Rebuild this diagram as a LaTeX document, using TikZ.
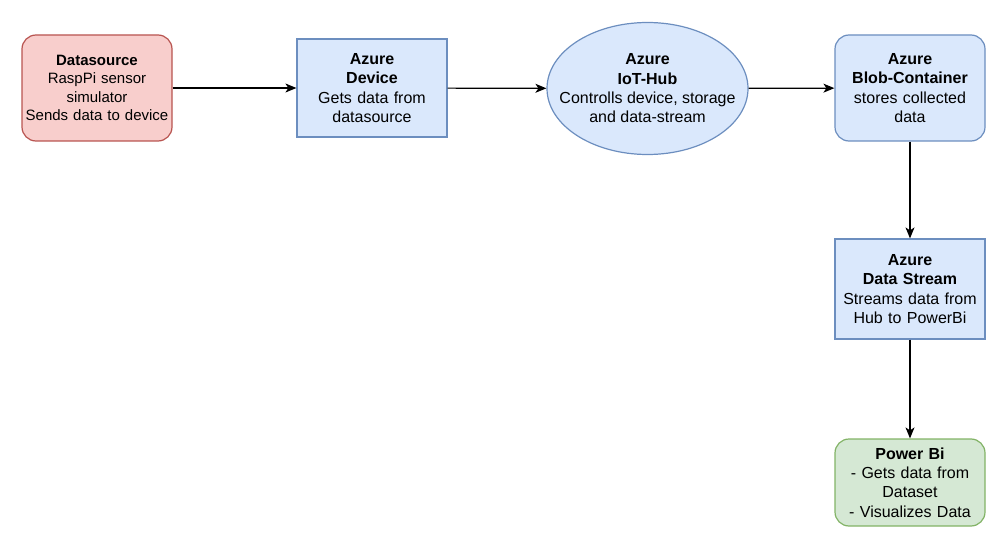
\documentclass[tikz,border=0pt]{standalone}
\usepackage{fontspec}
\setmainfont{Liberation Sans}
\usetikzlibrary{arrows.meta,shapes.geometric}
\definecolor{redfill}{HTML}{F8CECC}\definecolor{redline}{HTML}{B85450}
\definecolor{bluefill}{HTML}{DAE8FC}\definecolor{blueline}{HTML}{6C8EBF}
\definecolor{greenfill}{HTML}{D5E8D4}\definecolor{greenline}{HTML}{82B366}
\begin{document}
\begin{tikzpicture}[x=1pt,y=-1pt,
  box/.style={draw,line width=1.2pt,align=center,inner sep=0pt,
    font=\fontsize{16}{19.3}\selectfont, text width=150pt, minimum width=150pt},
  redbox/.style={box,fill=redfill,draw=redline,rounded corners=14pt,font=\fontsize{15}{18.2}\selectfont},
  bluebox/.style={box,fill=bluefill,draw=blueline},
  blueround/.style={bluebox,rounded corners=14pt},
  greenbox/.style={box,fill=greenfill,draw=greenline,rounded corners=14pt},
  oval/.style={ellipse,draw=blueline,fill=bluefill,line width=1.2pt,inner sep=0pt,
    minimum width=201pt, minimum height=132pt},
  ovaltext/.style={align=center,inner sep=0pt,font=\fontsize{16}{19.3}\selectfont},
  conn/.style={line width=1.2pt,-{Stealth[length=11pt,width=9pt,inset=3pt]}}]
\useasboundingbox (0,0) rectangle (1005,559);
\node[redbox, minimum height=106pt] (ds) at (97,88) {\textbf{Datasource}\\RaspPi sensor\\simulator\\Sends data to device};
\node[bluebox, minimum height=98pt] (dev) at (372,88) {\textbf{Azure}\\\textbf{Device}\\Gets data from\\datasource};
\node[oval, label={[ovaltext]center:\textbf{Azure}\\\textbf{IoT-Hub}\\Controlls device, storage\\and data-stream}] (hub) at (647.5,88.5) {};
\node[blueround, minimum height=106pt] (blob) at (910,88) {\textbf{Azure}\\\textbf{Blob-Container}\\stores collected\\data};
\node[bluebox, minimum height=100pt] (stream) at (910,289) {\textbf{Azure}\\\textbf{Data Stream}\\Streams data from\\Hub to PowerBi};
\node[greenbox, minimum height=87pt] (pbi) at (910,482.5) {\textbf{Power Bi}\\- Gets data from\\Dataset\\- Visualizes Data};
\draw[conn] (ds) -- (dev);
\draw[conn] (dev) -- (hub);
\draw[conn] (hub) -- (blob);
\draw[conn] (blob) -- (stream);
\draw[conn] (stream) -- (pbi);
\end{tikzpicture}
\end{document}
